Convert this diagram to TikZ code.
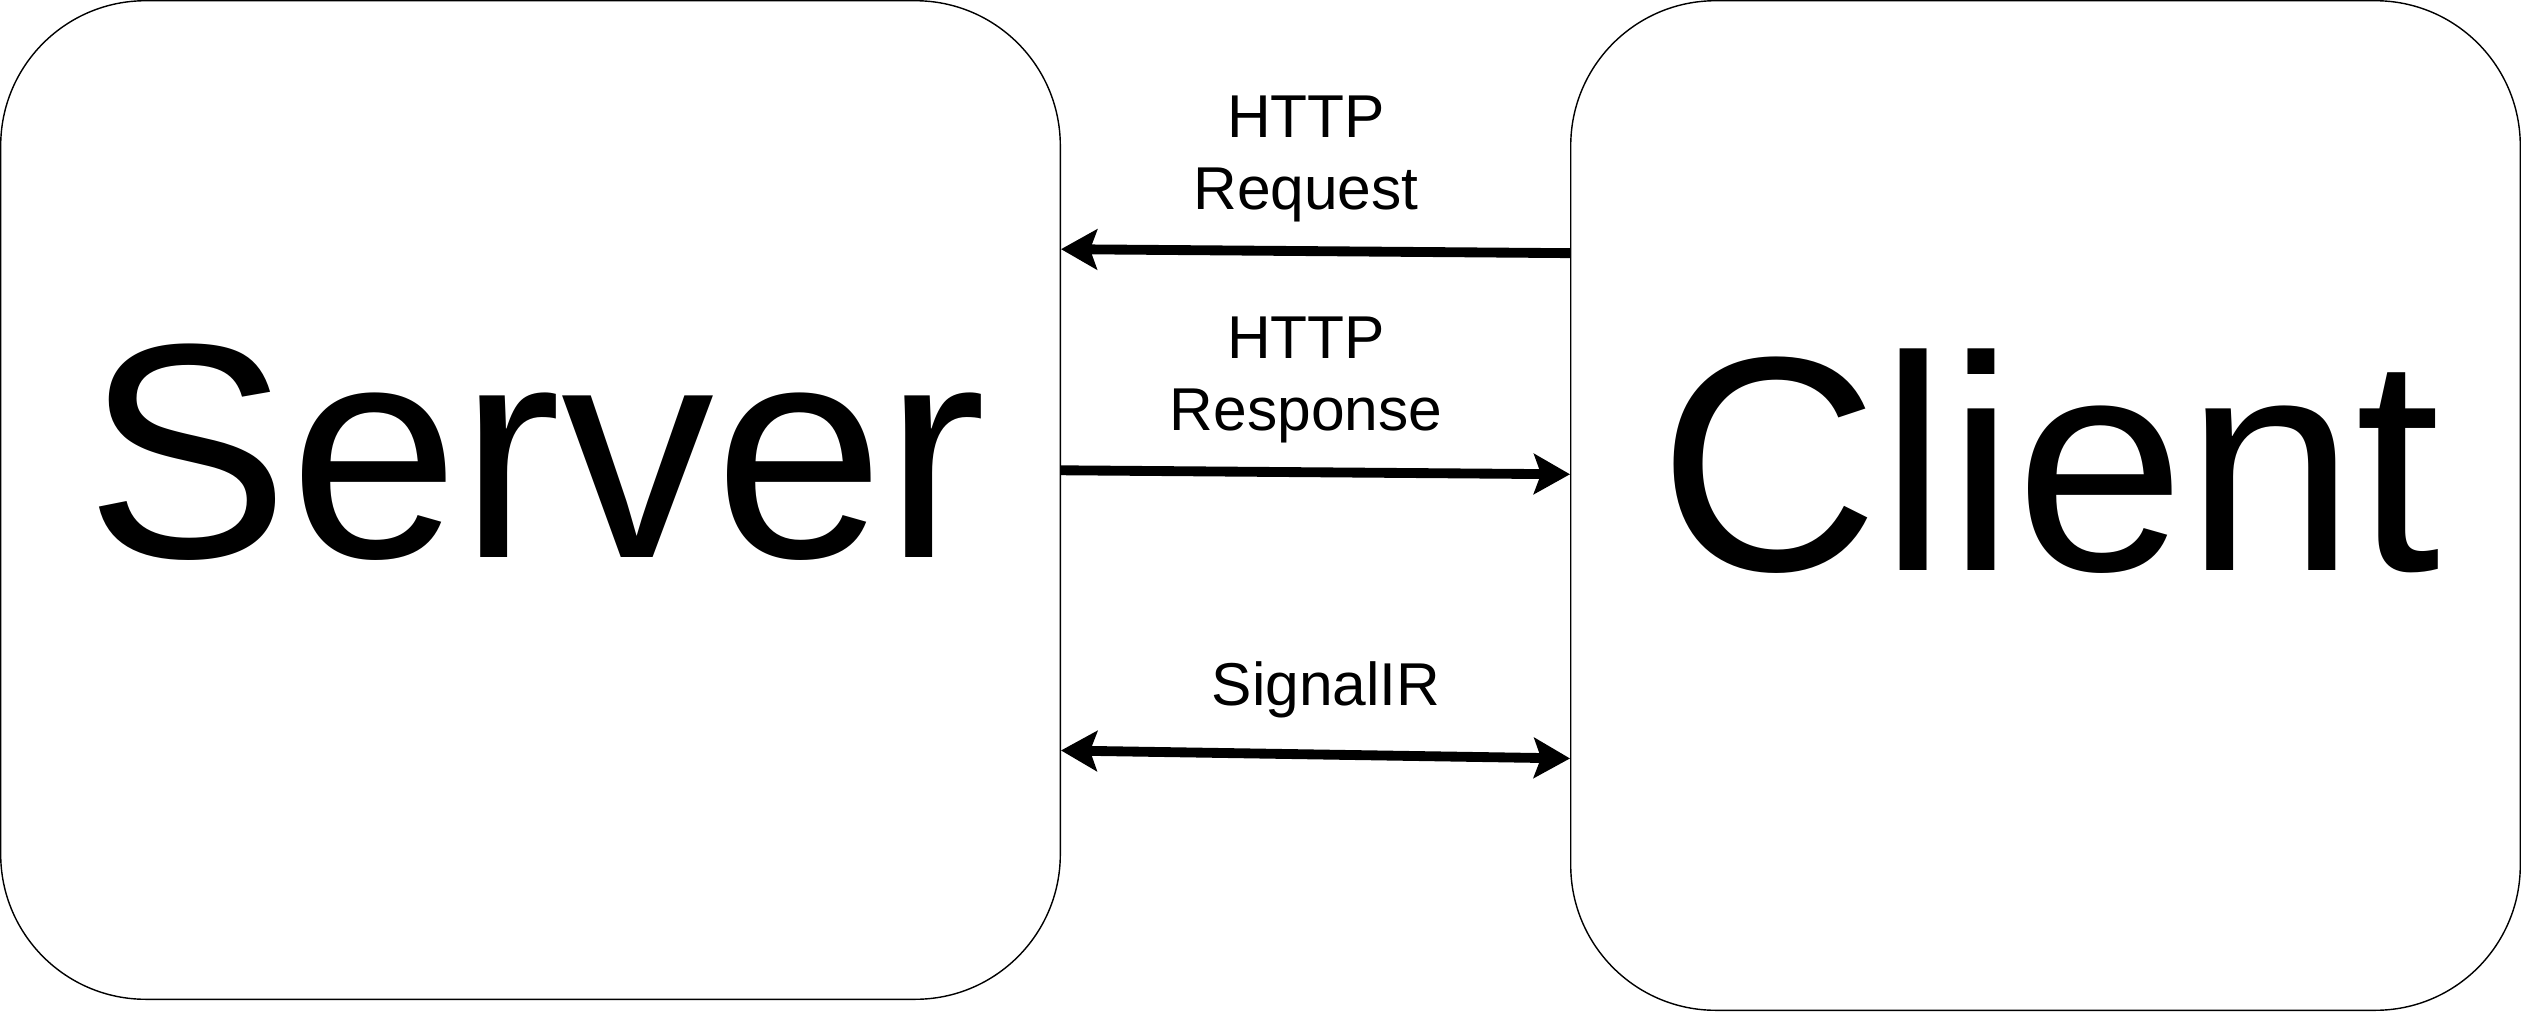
\documentclass[tikz,border=0pt]{standalone}
\usepackage{fontspec}
\setmainfont{Liberation Sans}
\usetikzlibrary{arrows.meta}
\begin{document}
\begin{tikzpicture}[x=0.01cm,y=-0.01cm,
  box/.style={draw=black,line width=0.4pt,rounded corners=1.45cm,inner sep=0pt,fill=white},
  big/.style={font=\fontsize{87}{100}\selectfont,inner sep=0pt},
  lbl/.style={font=\fontsize{17.2}{20.4}\selectfont,align=center,inner sep=0pt},
  tip/.style={Stealth[length=0.36cm,width=0.4cm,inset=0.07cm]},
  conn/.style={line width=2.8pt,-{Stealth[length=0.36cm,width=0.4cm,inset=0.07cm]}},
  conn2/.style={line width=2.8pt,{Stealth[length=0.36cm,width=0.4cm,inset=0.07cm]}-{Stealth[length=0.36cm,width=0.4cm,inset=0.07cm]}}]
\useasboundingbox (0,0) rectangle (2521,1012);
\node[box,minimum width=10.59cm,minimum height=9.98cm] (server) at (530.5,500) {};
\node[box,minimum width=9.49cm,minimum height=10.09cm] (client) at (2045.5,505.5) {};
\node[big] (serverlabel) at (536,452) {Server};
\node[big] (clientlabel) at (2050,461) {Client};
% connector end points on box borders
\coordinate (reqA) at ([yshift=-2.53cm]client.north west);
\coordinate (reqB) at ([yshift=-2.49cm]server.north east);
\coordinate (resA) at ([yshift=-4.70cm]server.north east);
\coordinate (resB) at ([yshift=-4.74cm]client.north west);
\coordinate (sigA) at ([yshift=-7.50cm]server.north east);
\coordinate (sigB) at ([yshift=-7.58cm]client.north west);
\draw[conn] (reqA) -- (reqB);
\draw[conn] (resA) -- (resB);
\draw[conn2] (sigA) -- (sigB);
\node[lbl] (reqlabel) at (1306,159) {HTTP\\Request};
\node[lbl] (reslabel) at (1306,380) {HTTP\\Response};
\node[lbl] (siglabel) at (1326,690) {SignalIR};
\end{tikzpicture}
\end{document}
